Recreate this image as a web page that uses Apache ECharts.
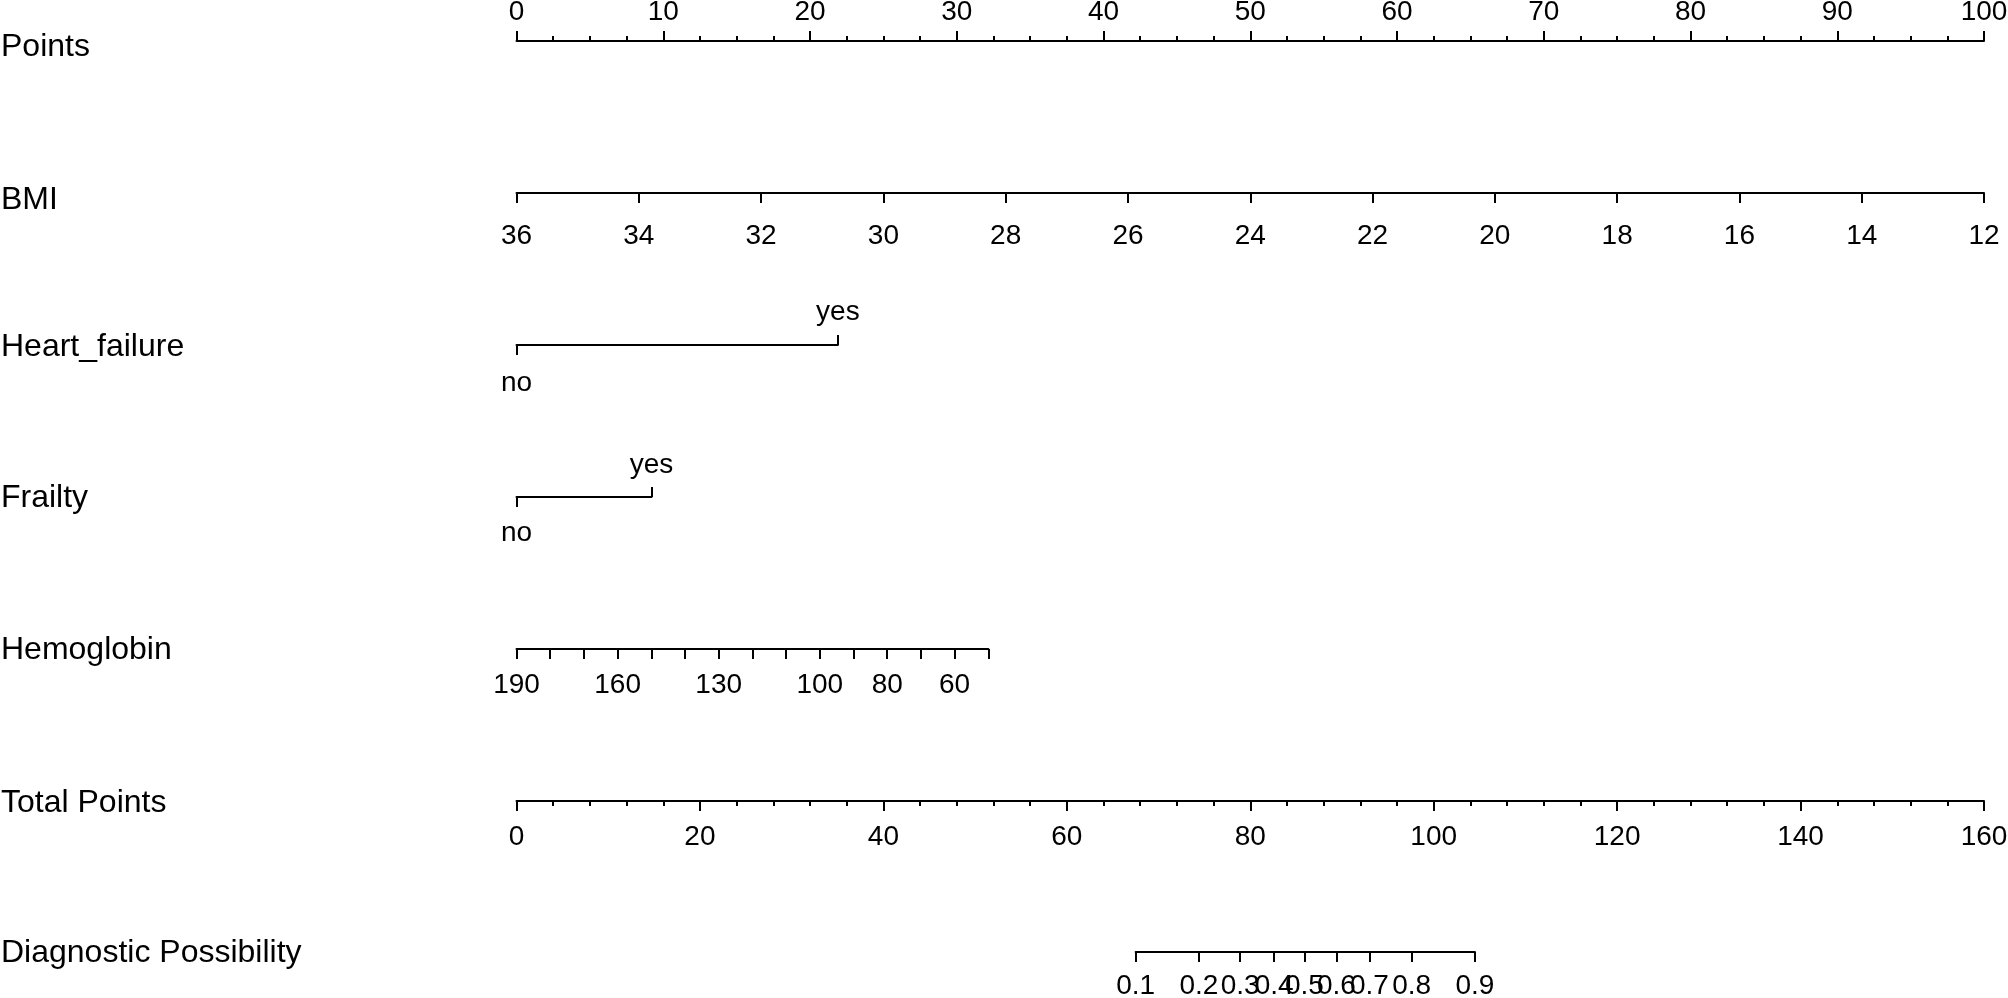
<!DOCTYPE html>
<html>
<head>
<meta charset="utf-8">
<script src="https://cdn.jsdelivr.net/npm/echarts@6/dist/echarts.min.js"></script>
<style>
  html, body { margin: 0; padding: 0; background: #fff; }
  #chart { width: 2008px; height: 998px; }
</style>
</head>
<body>
<div id="chart"></div>
<script>
// nomogram data
const rowNames = ['Points', 'BMI', 'Heart_failure', 'Frailty', 'Hemoglobin', 'Total Points', 'Diagnostic Possibility'];
const pointsRange = [0, 100];
const bmiRange = [36, 12];            // BMI at 0 points and at 100 points
const heartFailureLevels = ['no', 'yes'];
const heartFailurePoints = [0, 21.9];
const frailtyLevels = ['no', 'yes'];
const frailtyPoints = [0, 9.2];
const hemoglobinRange = [190, 50];    // Hb at 0 points and at max points
const hemoglobinPoints = [0, 32.15];
const hemoglobinLabels = [190, 160, 130, 100, 80, 60];
const totalPointsRange = [0, 160];
const diagProbs = [0.1, 0.2, 0.3, 0.4, 0.5, 0.6, 0.7, 0.8, 0.9];
const diagTotalPoints = [67.5, 74.4, 78.9, 82.6, 85.9, 89.4, 93.0, 97.6, 104.5];

// layout
const LEFT = 516.5, WIDTH = 1467.5;
const rowY = [41, 193, 345, 497, 649, 801, 952];
const labelY = [47, 200, 347, 498, 650, 803, 953];
const FONT = 'Liberation Sans';

function pxPoints(p) { return WIDTH * p / pointsRange[1]; }
function pxTotal(t) { return WIDTH * t / totalPointsRange[1]; }

const lineStyle = { color: '#000', width: 2 };
const txt = { color: '#000', fontSize: 28, fontFamily: FONT };

const grids = [
  { left: LEFT, top: rowY[0], width: WIDTH, height: 0 },
  { left: LEFT, top: rowY[1], width: WIDTH, height: 0 },
  { left: LEFT, top: rowY[2], width: pxPoints(heartFailurePoints[1]), height: 0 },
  { left: LEFT, top: rowY[3], width: pxPoints(frailtyPoints[1]), height: 0 },
  { left: LEFT, top: rowY[4], width: pxPoints(hemoglobinPoints[1]), height: 0 },
  { left: LEFT, top: rowY[5], width: WIDTH, height: 0 },
  { left: LEFT + pxTotal(diagTotalPoints[0]), top: rowY[6],
    width: pxTotal(diagTotalPoints[diagTotalPoints.length - 1] - diagTotalPoints[0]), height: 0 }
].map(g => Object.assign({ outerBoundsMode: 'none', containLabel: false }, g));

function axis(opts) {
  return Object.assign({
    type: 'value',
    axisLine: { show: true, onZero: false, lineStyle: lineStyle },
    axisTick: { show: true, length: 10, lineStyle: lineStyle },
    splitLine: { show: false },
    minorSplitLine: { show: false }
  }, opts);
}

function levelAxis(grid, pts, levels, margins) {
  return [
    axis({
      gridIndex: grid, position: 'bottom', min: pts[0], max: pts[1],
      axisTick: { show: true, length: 10, lineStyle: lineStyle, customValues: [pts[0]] },
      axisLabel: Object.assign({}, txt, { margin: margins[0], customValues: [pts[0]],
        formatter: () => levels[0] })
    }),
    axis({
      gridIndex: grid, position: 'top', min: pts[0], max: pts[1],
      axisLine: { show: false },
      axisTick: { show: true, length: 10, lineStyle: lineStyle, customValues: [pts[1]] },
      axisLabel: Object.assign({}, txt, { margin: margins[1], customValues: [pts[1]],
        formatter: () => levels[1] })
    })
  ];
}

const xAxes = [
  axis({
    gridIndex: 0, position: 'top', min: pointsRange[0], max: pointsRange[1], interval: 10,
    minorTick: { show: true, splitNumber: 4, length: 5, lineStyle: lineStyle },
    axisLabel: Object.assign({}, txt, { margin: 15, showMinLabel: true, showMaxLabel: true })
  }),
  axis({
    gridIndex: 1, position: 'bottom', min: bmiRange[1], max: bmiRange[0], interval: 2, inverse: true,
    axisLabel: Object.assign({}, txt, { margin: 29, showMinLabel: true, showMaxLabel: true })
  }),
  ...levelAxis(2, heartFailurePoints, heartFailureLevels, [24, 19]),
  ...levelAxis(3, frailtyPoints, frailtyLevels, [22, 18]),
  axis({
    gridIndex: 4, position: 'bottom', min: hemoglobinRange[1], max: hemoglobinRange[0], interval: 10,
    inverse: true,
    axisLabel: Object.assign({}, txt, { margin: 22, customValues: hemoglobinLabels })
  }),
  axis({
    gridIndex: 5, position: 'bottom', min: totalPointsRange[0], max: totalPointsRange[1], interval: 20,
    minorTick: { show: true, splitNumber: 5, length: 5, lineStyle: lineStyle },
    axisLabel: Object.assign({}, txt, { margin: 22, showMinLabel: true, showMaxLabel: true })
  }),
  axis({
    gridIndex: 6, position: 'bottom', min: diagTotalPoints[0], max: diagTotalPoints[diagTotalPoints.length - 1],
    axisTick: { show: true, length: 10, lineStyle: lineStyle, customValues: diagTotalPoints },
    axisLabel: Object.assign({}, txt, {
      margin: 20, customValues: diagTotalPoints,
      formatter: function (v) {
        let best = 0;
        diagTotalPoints.forEach((t, i) => {
          if (Math.abs(t - v) < Math.abs(diagTotalPoints[best] - v)) best = i;
        });
        return String(diagProbs[best]);
      }
    })
  })
];

const yAxes = grids.map((g, i) => ({ gridIndex: i, type: 'value', show: false, min: 0, max: 1 }));

const chart = echarts.init(document.getElementById('chart'), null, { renderer: 'canvas' });
chart.setOption({
  animation: false,
  backgroundColor: '#fff',
  grid: grids,
  xAxis: xAxes,
  yAxis: yAxes,
  graphic: rowNames.map((name, i) => ({
    type: 'text',
    x: 1,
    y: labelY[i],
    style: { text: name, fill: '#000', fontSize: 32, fontFamily: FONT, verticalAlign: 'middle', align: 'left' }
  })),
  series: []
});
</script>
</body>
</html>
